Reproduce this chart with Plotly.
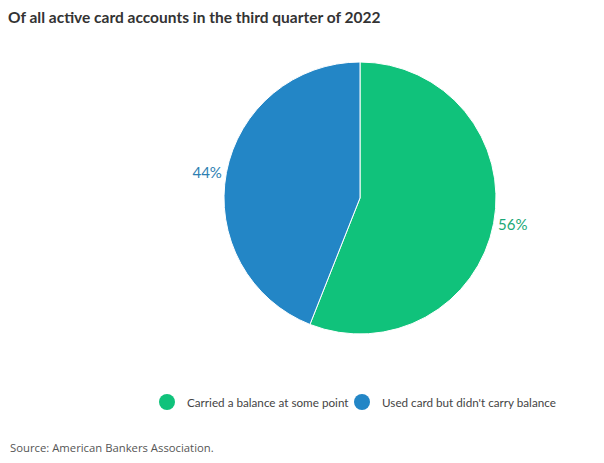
import plotly.graph_objects as go

# data
labels = ["Carried a balance at some point", "Used card but didn't carry balance"]
values = [56, 44]
colors = ["#10C27B", "#2386C6"]
text_colors = ["#1AA877", "#2E7FB2"]

title = "Of all active card accounts in the third quarter of 2022"
source = "Source: American Bankers Association."

W, H = 604, 463

fig = go.Figure()

fig.add_trace(go.Pie(
    labels=labels,
    values=values,
    sort=False,
    direction="clockwise",
    rotation=0,
    domain=dict(x=[152 / W, 552 / W], y=[(H - 326) / H, (H - 54) / H]),
    marker=dict(colors=colors, line=dict(color="white", width=1)),
    texttemplate="%{value}%",
    textposition="outside",
    outsidetextfont=dict(family="Lato", size=15, color=text_colors),
    showlegend=False,
    hoverinfo="label+percent",
))

# legend with round markers, one legend box per item
legend_names = ["legend", "legend2"]
for lab, col, lg in zip(labels, colors, legend_names):
    fig.add_trace(go.Scatter(
        x=[None], y=[None], mode="markers", name=lab, legend=lg,
        marker=dict(color=col, size=16, symbol="circle"),
    ))

leg_style = dict(orientation="h", xanchor="left", y=1 - 394 / H, yanchor="middle",
                 font=dict(family="Lato", size=11.7, color="#444"),
                 itemsizing="trace", bgcolor="rgba(0,0,0,0)")

fig.update_layout(
    width=W, height=H,
    paper_bgcolor="white", plot_bgcolor="white",
    margin=dict(l=0, r=0, t=0, b=0, autoexpand=False),
    font=dict(family="Lato", size=12, color="#444"),
    title=dict(text="<b>" + title + "</b>", x=0, xanchor="left",
               y=1 - 10 / H, yanchor="middle",
               font=dict(family="Lato", size=15.5, color="#333")),
    legend=dict(x=139 / W, **leg_style),
    legend2=dict(x=334 / W, **leg_style),
    xaxis=dict(visible=False, domain=[0, 1]),
    yaxis=dict(visible=False, domain=[0, 1]),
    annotations=[dict(text=source, xref="paper", yref="paper",
                      x=0, xanchor="left", y=1 - 439 / H, yanchor="middle",
                      showarrow=False,
                      font=dict(family="Open Sans", size=11.3, color="#555"))],
)

fig.write_html("out.html")
